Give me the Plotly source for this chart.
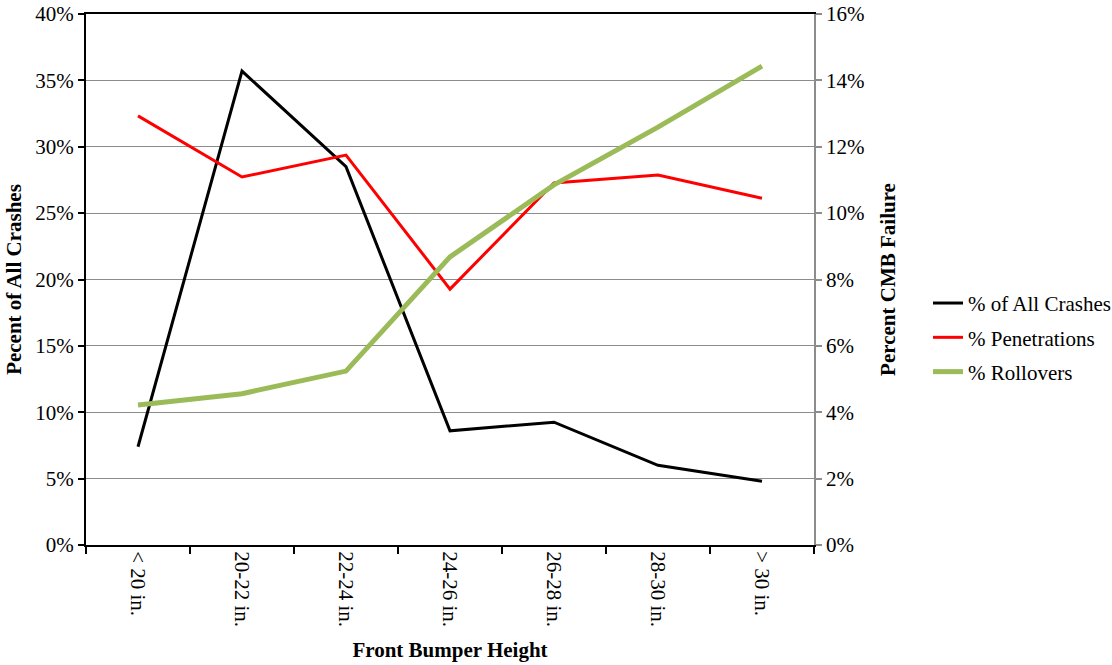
import plotly.graph_objects as go

categories = ["< 20 in.", "20-22 in.", "22-24 in.", "24-26 in.", "26-28 in.", "28-30 in.", "> 30 in."]
all_crashes = [7.4, 35.7, 28.5, 8.6, 9.25, 6.0, 4.8]
penetrations = [12.93, 11.09, 11.75, 7.71, 10.91, 11.15, 10.45]
rollovers = [4.22, 4.56, 5.24, 8.68, 10.85, 12.59, 14.43]

FONT = "Liberation Serif, Times New Roman, serif"
FS = 21

fig = go.Figure()
fig.add_trace(go.Scatter(x=categories, y=all_crashes, name="% of All Crashes", mode="lines",
                         line=dict(color="#000000", width=3), yaxis="y", legendgroup="a"))
fig.add_trace(go.Scatter(x=categories, y=penetrations, name="% Penetrations", mode="lines",
                         line=dict(color="#ff0000", width=3), yaxis="y2", legendgroup="b"))
fig.add_trace(go.Scatter(x=categories, y=rollovers, name="% Rollovers", mode="lines",
                         line=dict(color="#9bbb59", width=5), yaxis="y2", legendgroup="c"))

fig.update_layout(
    width=1112, height=665,
    margin=dict(l=86, r=298, t=14, b=120, autoexpand=False),
    paper_bgcolor="white", plot_bgcolor="white",
    font=dict(family=FONT, size=FS, color="black"),
    showlegend=True,
    legend=dict(x=1.1566, xanchor="left", y=0.391, yanchor="middle",
                font=dict(family=FONT, size=FS), tracegroupgap=4,
                bgcolor="rgba(0,0,0,0)", itemwidth=30),
    xaxis=dict(
        type="category", showline=True, linecolor="black", linewidth=2, mirror=True,
        ticks="outside", tickson="boundaries", ticklen=7, tickcolor="black", tickwidth=1.5,
        tickangle=90, showgrid=False, tickfont=dict(family=FONT, size=FS), automargin=False,
        title=dict(text="<b>Front Bumper Height</b>", font=dict(family=FONT, size=FS), standoff=16),
        range=[-0.5, 6.5],
    ),
    yaxis=dict(
        range=[0, 40], dtick=5, ticksuffix="%", showline=True, linecolor="black", linewidth=2,
        ticks="outside", ticklen=6, tickcolor="black", tickwidth=1.5, automargin=False,
        ticklabeloverflow="allow",
        showgrid=True, gridcolor="#8c8c8c", gridwidth=1, zeroline=False,
        tickfont=dict(family=FONT, size=FS),
        title=dict(text="<b>Pecent of All Crashes</b>", font=dict(family=FONT, size=FS), standoff=8),
    ),
    yaxis2=dict(
        range=[0, 16], dtick=2, ticksuffix="%", overlaying="y", side="right",
        showline=True, linecolor="#8c8c8c", linewidth=1.5, automargin=False,
        ticklabeloverflow="allow",
        ticks="outside", ticklen=6, tickcolor="#8c8c8c", tickwidth=1.5,
        showgrid=False, zeroline=False,
        tickfont=dict(family=FONT, size=FS),
        title=dict(text="<b>Percent CMB Failure</b>", font=dict(family=FONT, size=FS), standoff=17),
    ),
)

fig.write_html("out.html", config={"displayModeBar": False},
               post_script="document.body.style.margin='0';")
